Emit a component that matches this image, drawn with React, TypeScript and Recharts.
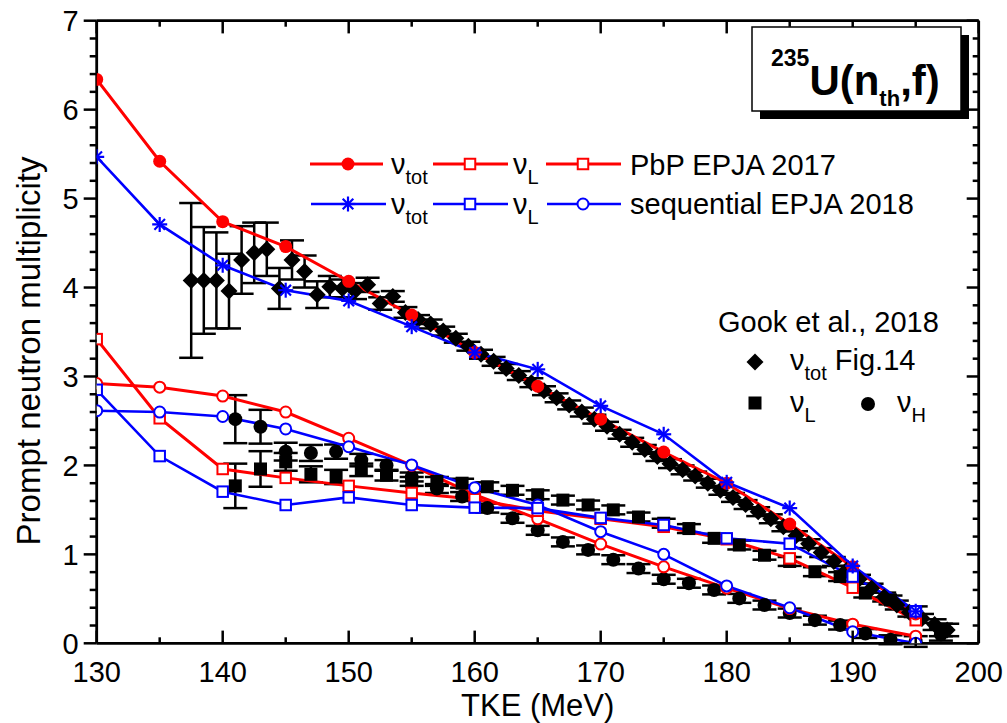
import React from 'react';
import { ComposedChart, Line, Scatter, XAxis, YAxis, ErrorBar } from 'recharts';

const FONT = "'Liberation Sans', Arial, Helvetica, sans-serif";
const RED = '#ff0000';
const BLUE = '#0000ff';
const W = 1007;
const H = 723;

// ---- axis ticks ----
const xTicks = [130, 135, 140, 145, 150, 155, 160, 165, 170, 175, 180, 185, 190, 195, 200];
const yTicks = [0, 0.2, 0.4, 0.6, 0.8, 1, 1.2, 1.4, 1.6, 1.8, 2, 2.2, 2.4, 2.6, 2.8, 3, 3.2, 3.4, 3.6, 3.8, 4, 4.2, 4.4, 4.6, 4.8, 5, 5.2, 5.4, 5.6, 5.8, 6, 6.2, 6.4, 6.6, 6.8, 7];

// ---- model calculations (TKE grid) ----
const modelTke = [130, 135, 140, 145, 150, 155, 160, 165, 170, 175, 180, 185, 190, 195];
const pbpTot = [6.34, 5.42, 4.74, 4.46, 4.07, 3.69, 3.27, 2.89, 2.52, 2.15, 1.8, 1.34, 0.86, 0.33];
const pbpL = [3.42, 2.53, 1.96, 1.86, 1.77, 1.69, 1.62, 1.49, 1.4, 1.31, 1.17, 0.955, 0.625, 0.26];
const pbpH = [2.92, 2.88, 2.78, 2.6, 2.305, 2.0, 1.67, 1.4, 1.116, 0.86, 0.62, 0.39, 0.215, 0.08];
const seqTot = [5.47, 4.71, 4.25, 3.97, 3.85, 3.56, 3.27, 3.08, 2.67, 2.35, 1.81, 1.52, 0.87, 0.36];
const seqL = [2.85, 2.105, 1.705, 1.555, 1.64, 1.555, 1.525, 1.52, 1.41, 1.33, 1.18, 1.12, 0.75, 0.36];
const seqH = [2.615, 2.6, 2.55, 2.41, 2.21, 2.005, 1.75, 1.555, 1.255, 1.0, 0.645, 0.4, 0.13, 0.0];

// ---- Gook et al. 2018 experimental ----
const gookTotTke = [137.5, 138.5, 139.5, 140.5, 141.5, 142.5, 143.5, 144.5, 145.5, 146.5, 147.5, 148.5, 149.5, 150.5, 151.5, 152.5, 153.5, 154.5, 155.5, 156.5, 157.5, 158.5, 159.5, 160.5, 161.5, 162.5, 163.5, 164.5, 165.5, 166.5, 167.5, 168.5, 169.5, 170.5, 171.5, 172.5, 173.5, 174.5, 175.5, 176.5, 177.5, 178.5, 179.5, 180.5, 181.5, 182.5, 183.5, 184.5, 185.5, 186.5, 187.5, 188.5, 189.5, 190.5, 191.5, 192.5, 193.5, 194.5, 195.5, 196.5, 197.5];
const gookTot = [4.08, 4.08, 4.08, 3.96, 4.31, 4.39, 4.43, 3.99, 4.31, 4.18, 3.92, 4.01, 3.99, 3.96, 4.03, 3.82, 3.9, 3.72, 3.64, 3.59, 3.51, 3.43, 3.34, 3.25, 3.17, 3.09, 3.01, 2.93, 2.84, 2.76, 2.68, 2.6, 2.52, 2.44, 2.35, 2.26, 2.18, 2.1, 2.02, 1.95, 1.88, 1.8, 1.72, 1.64, 1.56, 1.48, 1.4, 1.31, 1.21, 1.12, 1.02, 0.92, 0.82, 0.72, 0.62, 0.52, 0.43, 0.35, 0.28, 0.21, 0.15];
const gookTotErr = [0.87, 0.6, 0.54, 0.42, 0.38, 0.34, 0.3, 0.23, 0.22, 0.18, 0.15, 0.12, 0.1, 0.09, 0.08, 0.07, 0.06, 0.06, 0.05, 0.05, 0.05, 0.05, 0.05, 0.05, 0.05, 0.05, 0.05, 0.05, 0.05, 0.05, 0.05, 0.05, 0.05, 0.05, 0.05, 0.05, 0.05, 0.05, 0.05, 0.05, 0.05, 0.05, 0.05, 0.05, 0.05, 0.05, 0.05, 0.05, 0.05, 0.05, 0.05, 0.05, 0.05, 0.05, 0.05, 0.05, 0.05, 0.05, 0.05, 0.06, 0.07];

const gookFragTke = [141, 143, 145, 147, 149, 151, 153, 155, 157, 159, 161, 163, 165, 167, 169, 171, 173, 175, 177, 179, 181, 183, 185, 187, 189, 191, 193, 195, 197];
const gookL = [1.77, 1.96, 2.04, 1.9, 1.87, 1.95, 1.89, 1.82, 1.82, 1.8, 1.76, 1.72, 1.67, 1.61, 1.555, 1.5, 1.42, 1.35, 1.29, 1.18, 1.105, 0.99, 0.92, 0.805, 0.75, 0.565, 0.487, 0.355, 0.15];
const gookLErr = [0.25, 0.2, 0.1, 0.09, 0.08, 0.07, 0.06, 0.05, 0.05, 0.05, 0.05, 0.05, 0.05, 0.05, 0.05, 0.05, 0.05, 0.05, 0.05, 0.05, 0.05, 0.05, 0.05, 0.05, 0.05, 0.05, 0.05, 0.06, 0.07];
const gookH = [2.52, 2.435, 2.155, 2.14, 2.155, 2.06, 2.0, 1.87, 1.74, 1.65, 1.52, 1.405, 1.27, 1.14, 1.05, 0.94, 0.84, 0.72, 0.675, 0.6, 0.505, 0.43, 0.34, 0.26, 0.205, 0.11, 0.04, 0.02, 0.1];
const gookHErr = [0.27, 0.19, 0.1, 0.09, 0.08, 0.07, 0.06, 0.05, 0.05, 0.05, 0.05, 0.05, 0.05, 0.05, 0.05, 0.05, 0.05, 0.05, 0.05, 0.05, 0.05, 0.05, 0.05, 0.05, 0.05, 0.05, 0.05, 0.06, 0.07];

const mk = (xs: number[], ys: number[]) => xs.map((x, i) => ({ x, y: ys[i] }));
const mkE = (xs: number[], ys: number[], es: number[]) => xs.map((x, i) => ({ x, y: ys[i], ey: es[i] }));

// ---- marker shapes ----
const FilledCircle = ({ cx, cy, color, r }: any) => <circle cx={cx} cy={cy} r={r} fill={color} stroke="none" />;
const OpenSquare = ({ cx, cy, color, s }: any) => (
  <rect x={cx - s / 2} y={cy - s / 2} width={s} height={s} fill="#fff" stroke={color} strokeWidth={2} />
);
const OpenCircle = ({ cx, cy, color, r }: any) => <circle cx={cx} cy={cy} r={r} fill="#fff" stroke={color} strokeWidth={2} />;
const Asterisk = ({ cx, cy, color, r }: any) => {
  const d = r * 0.7071;
  return (
    <g stroke={color} strokeWidth={2.2}>
      <line x1={cx} y1={cy - r} x2={cx} y2={cy + r} />
      <line x1={cx - r} y1={cy} x2={cx + r} y2={cy} />
      <line x1={cx - d} y1={cy - d} x2={cx + d} y2={cy + d} />
      <line x1={cx - d} y1={cy + d} x2={cx + d} y2={cy - d} />
    </g>
  );
};
const Diamond = ({ cx, cy, h }: any) => (
  <path d={`M${cx},${cy - h}L${cx + h},${cy}L${cx},${cy + h}L${cx - h},${cy}Z`} fill="#000" />
);
const FilledSquare = ({ cx, cy, s }: any) => <rect x={cx - s / 2} y={cy - s / 2} width={s} height={s} fill="#000" />;

// ---- ticks ----
const BottomTick = (p: any) => {
  const { x, y, payload } = p;
  const v = payload.value;
  const major = Math.abs(v % 10) < 1e-6;
  return (
    <g>
      <line x1={x} x2={x} y1={y} y2={y - (major ? 12.7 : 6)} stroke="#000" strokeWidth={2.5} />
      {major && (
        <text x={x} y={y + 39} textAnchor="middle" fontSize={29} fontFamily={FONT} fill="#000">
          {v}
        </text>
      )}
    </g>
  );
};
const TopTick = (p: any) => {
  const { x, y, payload } = p;
  const v = payload.value;
  const major = Math.abs(v % 10) < 1e-6;
  return <line x1={x} x2={x} y1={y} y2={y + (major ? 12.7 : 6)} stroke="#000" strokeWidth={2.5} />;
};
const isMajorY = (v: number) => Math.abs(v - Math.round(v)) < 1e-6;
const LeftTick = (p: any) => {
  const { x, y, payload } = p;
  const v = payload.value;
  const major = isMajorY(v);
  return (
    <g>
      <line x1={x} x2={x - (major ? 13 : 7)} y1={y} y2={y} stroke="#000" strokeWidth={2.5} />
      {major && (
        <text x={x - 18} y={y + 10.5} textAnchor="end" fontSize={29} fontFamily={FONT} fill="#000">
          {Math.round(v)}
        </text>
      )}
    </g>
  );
};
const RightTick = (p: any) => {
  const { x, y, payload } = p;
  const major = isMajorY(payload.value);
  return <line x1={x} x2={x - (major ? 12 : 6)} y1={y} y2={y} stroke="#000" strokeWidth={2.5} />;
};

const dotFn = (Comp: any, extra: any) => (p: any) => <Comp key={`k${p.index}`} cx={p.cx} cy={p.cy} {...extra} />;

const Nu = ({ x, y, sub, size = 29, subSize = 20, rest }: any) => (
  <text x={x} y={y} fontSize={size} fontFamily={FONT} fill="#000">
    ν<tspan dy={10} fontSize={subSize}>{sub}</tspan>
    {rest ? <tspan dy={-10} fontSize={size}>{rest}</tspan> : null}
  </text>
);

const Overlay = () => (
  <svg width={W} height={H} style={{ position: 'absolute', left: 0, top: 0, pointerEvents: 'none' }}>
    {/* axis titles */}
    <text x={537.7} y={716} textAnchor="middle" fontSize={31} fontFamily={FONT} fill="#000">TKE (MeV)</text>
    <text transform="translate(40,351) rotate(-90)" textAnchor="middle" fontSize={33} fontFamily={FONT} fill="#000">
      Prompt neutron multiplicity
    </text>

    {/* model legend */}
    <line x1={310} x2={383} y1={164} y2={164} stroke={RED} strokeWidth={3} />
    <FilledCircle cx={348} cy={164} r={6.5} color={RED} />
    <Nu x={391} y={174} sub="tot" />
    <line x1={433} x2={508} y1={164} y2={164} stroke={RED} strokeWidth={3} />
    <OpenSquare cx={470} cy={164} s={10.5} color={RED} />
    <Nu x={513} y={174} sub="L" />
    <line x1={546} x2={621} y1={164} y2={164} stroke={RED} strokeWidth={3} />
    <OpenSquare cx={583} cy={164} s={10.5} color={RED} />
    <text x={630} y={175} fontSize={29} fontFamily={FONT} fill="#000">PbP EPJA 2017</text>

    <line x1={311} x2={386} y1={204} y2={204} stroke={BLUE} strokeWidth={2.6} />
    <Asterisk cx={348} cy={204} r={7.5} color={BLUE} />
    <Nu x={391} y={214} sub="tot" />
    <line x1={433} x2={508} y1={204} y2={204} stroke={BLUE} strokeWidth={2.6} />
    <OpenSquare cx={470} cy={204} s={10.5} color={BLUE} />
    <Nu x={513} y={214} sub="L" />
    <line x1={547} x2={621} y1={204} y2={204} stroke={BLUE} strokeWidth={2.6} />
    <OpenCircle cx={583} cy={204} r={5.5} color={BLUE} />
    <text x={630} y={214} fontSize={29} fontFamily={FONT} fill="#000">sequential EPJA 2018</text>

    {/* experimental legend */}
    <text x={718} y={332} fontSize={29} fontFamily={FONT} fill="#000">Gook et al., 2018</text>
    <Diamond cx={755} cy={362} h={8.5} />
    <Nu x={790} y={370} sub="tot" rest=" Fig.14" />
    <FilledSquare cx={755} cy={403} s={13} />
    <Nu x={790} y={412} sub="L" />
    <circle cx={868} cy={404} r={7} fill="#000" />
    <Nu x={897} y={412} sub="H" />

    {/* title box */}
    <rect x={760} y={35} width={209} height={84} fill="#000" />
    <rect x={752} y={27} width={209} height={84} fill="#fff" stroke="#000" strokeWidth={1.5} />
    <text x={771} y={66} fontFamily={FONT} fontWeight="bold" fill="#000">
      <tspan fontSize={23}>235</tspan>
      <tspan fontSize={42} dy={29}>U(n</tspan>
      <tspan fontSize={22} dy={11}>th</tspan>
      <tspan fontSize={42} dy={-11}>,f)</tspan>
    </text>
  </svg>
);

export default function App() {
  const axisLine = { stroke: '#000', strokeWidth: 2.8 };
  return (
    <div style={{ position: 'fixed', left: 0, top: 0, width: W, height: H, background: '#fff' }}>
      <ComposedChart width={W} height={H} margin={{ top: 19.7, right: 27.3, bottom: 78.7, left: 95.7 }}>
        <XAxis xAxisId="b" type="number" dataKey="x" domain={[130, 200]} ticks={xTicks} interval={0}
          tick={BottomTick} tickLine={false} tickSize={0} tickMargin={0} height={1} axisLine={axisLine} allowDataOverflow />
        <XAxis xAxisId="t" orientation="top" type="number" dataKey="x" domain={[130, 200]} ticks={xTicks} interval={0}
          tick={TopTick} tickLine={false} tickSize={0} tickMargin={0} height={1} axisLine={axisLine} allowDataOverflow />
        <YAxis yAxisId="l" type="number" domain={[0, 7]} ticks={yTicks} interval={0}
          tick={LeftTick} tickLine={false} tickSize={0} tickMargin={0} width={1} axisLine={axisLine} allowDataOverflow />
        <YAxis yAxisId="r" orientation="right" type="number" domain={[0, 7]} ticks={yTicks} interval={0}
          tick={RightTick} tickLine={false} tickSize={0} tickMargin={0} width={1} axisLine={axisLine} allowDataOverflow />

        {/* experimental data */}
        <Scatter xAxisId="b" yAxisId="l" data={mkE(gookFragTke, gookH, gookHErr)} dataKey="y" isAnimationActive={false}
          shape={(p: any) => <circle cx={p.cx} cy={p.cy} r={7} fill="#000" />}>
          <ErrorBar dataKey="ey" direction="y" width={12} stroke="#000" strokeWidth={2.5} />
        </Scatter>
        <Scatter xAxisId="b" yAxisId="l" data={mkE(gookFragTke, gookL, gookLErr)} dataKey="y" isAnimationActive={false}
          shape={(p: any) => <FilledSquare cx={p.cx} cy={p.cy} s={13} />}>
          <ErrorBar dataKey="ey" direction="y" width={12} stroke="#000" strokeWidth={2.5} />
        </Scatter>
        <Scatter xAxisId="b" yAxisId="l" data={mkE(gookTotTke, gookTot, gookTotErr)} dataKey="y" isAnimationActive={false}
          shape={(p: any) => <Diamond cx={p.cx} cy={p.cy} h={8.5} />}>
          <ErrorBar dataKey="ey" direction="y" width={12} stroke="#000" strokeWidth={2.5} />
        </Scatter>

        {/* PbP model (red) */}
        <Line xAxisId="b" yAxisId="l" data={mk(modelTke, pbpH)} dataKey="y" stroke={RED} strokeWidth={3} isAnimationActive={false}
          dot={dotFn(OpenCircle, { r: 5.5, color: RED })} activeDot={false} />
        <Line xAxisId="b" yAxisId="l" data={mk(modelTke, pbpL)} dataKey="y" stroke={RED} strokeWidth={3} isAnimationActive={false}
          dot={dotFn(OpenSquare, { s: 10.5, color: RED })} activeDot={false} />
        <Line xAxisId="b" yAxisId="l" data={mk(modelTke, pbpTot)} dataKey="y" stroke={RED} strokeWidth={3} isAnimationActive={false}
          dot={dotFn(FilledCircle, { r: 6.5, color: RED })} activeDot={false} />

        {/* sequential model (blue) */}
        <Line xAxisId="b" yAxisId="l" data={mk(modelTke, seqH)} dataKey="y" stroke={BLUE} strokeWidth={2.6} isAnimationActive={false}
          dot={dotFn(OpenCircle, { r: 5.5, color: BLUE })} activeDot={false} />
        <Line xAxisId="b" yAxisId="l" data={mk(modelTke, seqL)} dataKey="y" stroke={BLUE} strokeWidth={2.6} isAnimationActive={false}
          dot={dotFn(OpenSquare, { s: 10.5, color: BLUE })} activeDot={false} />
        <Line xAxisId="b" yAxisId="l" data={mk(modelTke, seqTot)} dataKey="y" stroke={BLUE} strokeWidth={2.6} isAnimationActive={false}
          dot={dotFn(Asterisk, { r: 7.5, color: BLUE })} activeDot={false} />
      </ComposedChart>
      <Overlay />
    </div>
  );
}
